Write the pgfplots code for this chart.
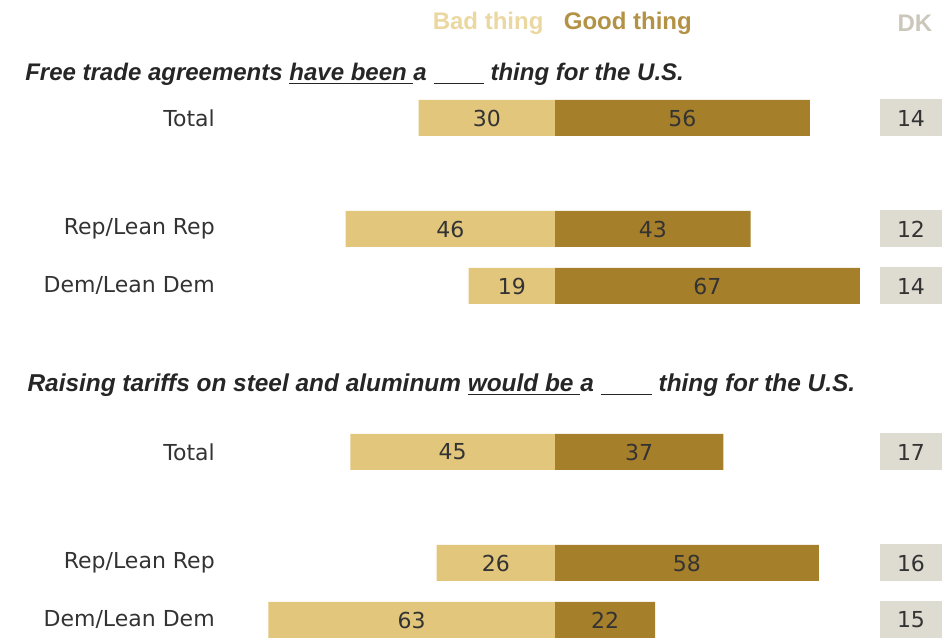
\documentclass[border=0pt]{standalone}
\usepackage{pgfplots}
\usepackage{pgfplotstable}
\pgfplotsset{compat=1.18}
\usepackage{fontspec}
\setmainfont{DejaVu Sans}
\newfontfamily\headfont{Liberation Sans}

\definecolor{badc}{HTML}{E2C67C}
\definecolor{goodc}{HTML}{A67F2A}
\definecolor{dkc}{HTML}{DEDBD0}
\definecolor{badh}{HTML}{EBD7A0}
\definecolor{goodh}{HTML}{B39245}
\definecolor{dkh}{HTML}{CBC7BB}
\definecolor{txt}{HTML}{333333}

% y = vertical position of each row, bad/good/dk in percent
\pgfplotstableread[col sep=comma]{
y,bad,good,dk,cat
-118,30,56,14,Total
-229,46,43,12,Rep/Lean Rep
-286,19,67,14,Dem/Lean Dem
-452,45,37,17,Total
-563,26,58,16,Rep/Lean Rep
-620,63,22,15,Dem/Lean Dem
}\survey

\begin{document}
\begin{tikzpicture}
\begin{axis}[
  width=471pt, height=319pt, scale only axis,
  xmin=-121.98, xmax=85.05, ymin=-638, ymax=0,
  hide axis, clip=false,
  every node near coord/.append style={font=\fontsize{11}{13}\selectfont, text=txt},
]
% bars
\addplot[xbar, bar shift=0pt, bar width=36, fill=badc, draw=none]
  table[x expr=-\thisrow{bad}, y=y]{\survey};
\addplot[xbar, bar shift=0pt, bar width=36, fill=goodc, draw=none]
  table[x=good, y=y]{\survey};
% value labels centred in each bar
\addplot[draw=none, nodes near coords, point meta=explicit symbolic,
  nodes near coords align=center]
  table[x expr=-\thisrow{bad}/2, y=y, meta=bad]{\survey};
\addplot[draw=none, nodes near coords, point meta=explicit symbolic,
  nodes near coords align=center]
  table[x expr=\thisrow{good}/2, y=y, meta=good]{\survey};
% DK column
\addplot[draw=none, nodes near coords, point meta=explicit symbolic,
  nodes near coords align=center,
  every node near coord/.append style={fill=dkc, minimum width=31pt, minimum height=18.5pt, inner sep=0pt}]
  table[x expr=78.24, y=y, meta=dk]{\survey};
% row labels
\addplot[draw=none, nodes near coords, point meta=explicit symbolic,
  nodes near coords align=center,
  every node near coord/.append style={anchor=east, inner sep=0pt}]
  table[x expr=-74.7, y=y, meta=cat]{\survey};

% column headings
\node[font=\headfont\bfseries\fontsize{12}{14}\selectfont, text=badh] at (axis cs:-14.7,-23) {Bad thing};
\node[font=\headfont\bfseries\fontsize{12}{14}\selectfont, text=goodh] at (axis cs:16.0,-23) {Good thing};
\node[font=\headfont\bfseries\fontsize{12}{14}\selectfont, text=dkh] at (axis cs:79.1,-23) {DK};

% question titles
\node[anchor=west, inner sep=0pt, font=\headfont\bfseries\itshape\fontsize{12}{14}\selectfont, text=black!85]
  at (axis cs:-116.5,-74) {Free trade agreements \underline{have been\ }a \underline{\hspace{2.1em}} thing for the U.S.};
\node[anchor=west, inner sep=0pt, font=\headfont\bfseries\itshape\fontsize{12.2}{14}\selectfont, text=black!85]
  at (axis cs:-116,-385) {Raising tariffs on steel and aluminum \underline{would be\ }a \underline{\hspace{2.1em}} thing for the U.S.};
\end{axis}
\path (current axis.south west) rectangle (current axis.north east);
\end{tikzpicture}
\end{document}
